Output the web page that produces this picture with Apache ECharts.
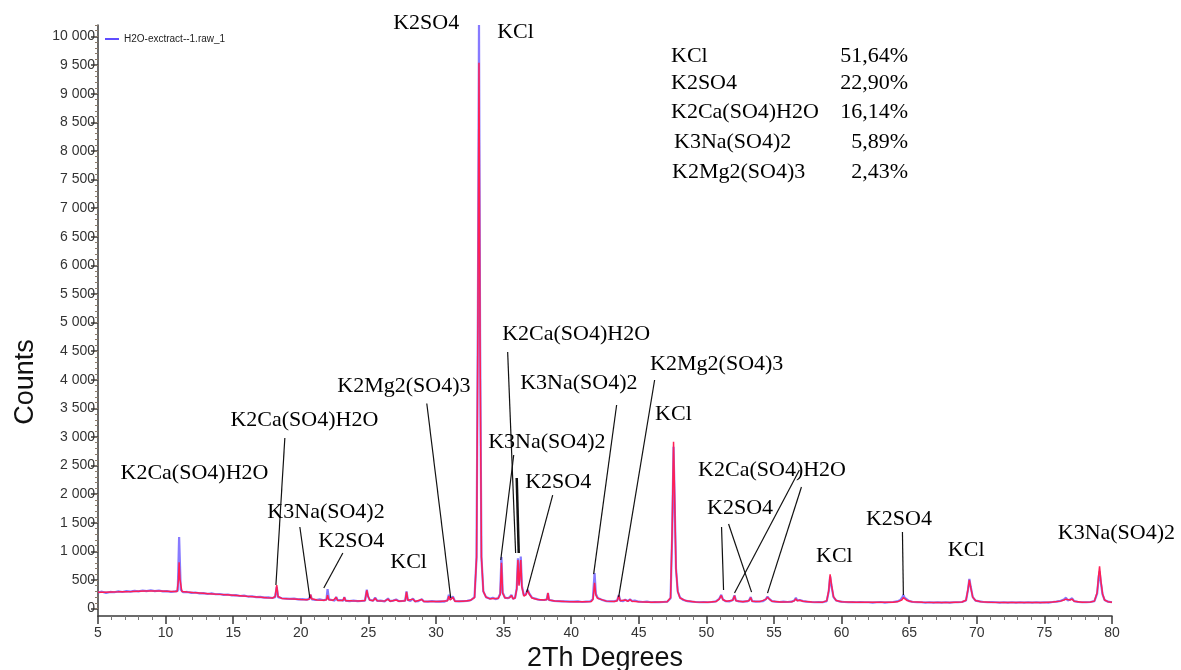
<!DOCTYPE html>
<html>
<head>
<meta charset="utf-8">
<script src="https://cdn.jsdelivr.net/npm/echarts@6/dist/echarts.min.js"></script>
<style>
  html, body { margin: 0; padding: 0; background: #fff; }
  #chart { width: 1181px; height: 670px; }
</style>
</head>
<body>
<div id="chart"></div>
<script>
  // measured scan (blue), [2Th, counts]
  var measured = [
    [5,280],[5.3,295],[5.6,275],[5.9,290],[6.2,285],[6.5,300],[6.8,290],[7.1,305],[7.4,295],[7.7,310],[8,300],[8.3,315],[8.6,305],[8.9,320],[9.2,305],[9.5,315],[9.8,300],[10.1,305],[10.4,290],[10.7,300],[10.9,310],[11.0,1250],[11.12,330],[11.3,285],[11.6,290],[11.9,275],[12.2,280],[12.5,265],[12.8,270],[13.1,255],[13.4,265],[13.7,250],[14,255],[14.3,240],[14.6,245],[14.9,230],[15.2,235],[15.5,220],[15.8,225],[16.1,210],[16.4,215],[16.7,200],[17,205],[17.3,190],[17.6,195],[17.9,185],
    [18.1,200],[18.22,380],[18.32,200],[18.6,180],[18.9,175],[19.2,170],[19.5,175],[19.8,160],[20.1,165],[20.4,155],[20.6,165],[20.72,240],[20.82,160],[21.1,150],[21.4,160],[21.7,145],[21.9,160],[21.98,340],[22.08,160],[22.3,150],[22.5,140],[22.62,205],[22.72,145],[22.95,150],[23.15,140],[23.22,200],[23.32,140],[23.6,130],[23.9,140],[24.2,130],[24.5,135],[24.75,140],[24.88,330],[24.98,210],[25.1,150],[25.35,140],[25.5,190],[25.65,135],[25.9,140],[26.2,125],[26.45,175],[26.6,130],[26.85,140],[27.05,160],[27.25,130],[27.55,135],[27.72,140],[27.82,300],[27.92,150],[28.1,135],[28.3,175],[28.45,125],[28.7,130],[28.95,165],[29.1,125],[29.4,120],[29.7,130],[30,120],[30.3,125],[30.6,120],[30.85,145],[30.95,240],[31.05,160],[31.25,210],[31.4,130],[31.7,125],[32,130],[32.3,135],[32.6,150],[32.85,200],
    [33.0,900],[33.1,5200],[33.18,10200],[33.26,4800],[33.36,900],[33.5,300],[33.7,200],[34.0,170],[34.2,190],[34.4,165],[34.6,180],[34.75,260],[34.84,900],[34.93,280],[35.1,190],[35.3,180],[35.45,200],[35.58,240],[35.7,170],[35.85,190],[35.97,350],[36.06,880],[36.14,420],[36.2,600],[36.27,910],[36.35,400],[36.5,230],[36.65,250],[36.78,330],[36.9,260],[37.1,190],[37.4,170],[37.7,150],[38.0,150],[38.2,160],[38.28,270],[38.36,150],[38.7,135],[39.0,130],[39.3,125],[39.6,125],[39.9,120],[40.2,120],[40.5,125],[40.8,115],[41.1,120],[41.4,125],[41.6,160],[41.73,620],[41.82,260],[41.95,190],[42.1,170],[42.3,150],[42.6,130],[42.9,125],[43.2,130],[43.4,140],[43.52,235],[43.62,140],[43.85,130],[44.0,155],[44.2,130],[44.35,160],[44.5,130],[44.7,140],[45,120],[45.3,115],[45.6,120],[45.9,110],[46.2,115],[46.5,110],[46.8,115],[47.1,120],
    [47.35,180],[47.47,1300],[47.57,2830],[47.65,1900],[47.75,700],[47.88,300],[48.05,190],[48.3,150],[48.6,130],[48.9,120],[49.2,115],[49.5,110],[49.8,115],[50.1,110],[50.4,115],[50.7,125],[50.95,170],[51.1,240],[51.22,160],[51.4,130],[51.7,125],[51.95,150],[52.08,230],[52.18,140],[52.4,125],[52.7,120],[53.0,125],[53.15,140],[53.28,200],[53.38,130],[53.65,120],[53.95,125],[54.2,130],[54.4,165],[54.52,210],[54.65,170],[54.85,130],[55.1,120],[55.4,115],[55.7,120],[56.0,115],[56.3,120],[56.5,140],[56.62,190],[56.72,140],[56.9,150],[57.02,175],[57.15,130],[57.4,120],[57.7,115],[58.0,110],[58.3,115],[58.6,110],[58.9,130],[59.05,300],[59.15,560],[59.25,400],[59.4,200],[59.6,140],[59.9,120],[60.2,115],[60.5,110],[60.8,115],[61.1,110],[61.4,115],[61.7,110],[62.0,110],[62.3,105],[62.6,110],[62.9,115],[63.2,105],[63.5,110],[63.8,115],[64.1,125],[64.35,150],[64.5,200],[64.57,240],[64.66,190],[64.8,160],[65.0,130],[65.3,115],[65.6,110],[65.9,110],[66.2,105],[66.5,110],[66.8,105],[67.1,110],[67.4,105],[67.7,110],[68.0,105],[68.3,110],[68.6,110],[68.9,115],
    [69.2,140],[69.35,330],[69.45,520],[69.55,380],[69.7,200],[69.9,140],[70.2,125],[70.5,115],[70.8,110],[71.1,115],[71.4,110],[71.7,105],[72.0,110],[72.3,105],[72.6,110],[72.9,105],[73.2,110],[73.5,105],[73.8,110],[74.1,105],[74.4,110],[74.7,105],[75.0,110],[75.3,105],[75.6,115],[75.9,120],[76.2,135],[76.45,160],[76.6,190],[76.72,140],[76.9,160],[77.05,180],[77.2,130],[77.5,115],[77.8,110],[78.1,110],[78.4,115],[78.7,130],[78.9,260],[79.02,560],[79.08,650],[79.18,450],[79.3,250],[79.45,150],[79.7,120],[80,110]
  ];

  // fitted profile (red), [2Th, counts]
  var calculated = [
    [5,285],[5.5,285],[6,290],[6.5,292],[7,295],[7.5,298],[8,302],[8.5,305],[9,306],[9.5,305],[10,302],[10.5,298],[10.85,300],[10.95,500],[11.0,810],[11.06,520],[11.2,300],[11.6,288],[12,280],[12.5,272],[13,264],[13.5,256],[14,248],[14.5,240],[15,232],[15.5,224],[16,214],[16.5,206],[17,198],[17.5,190],[17.9,185],
    [18.1,210],[18.22,410],[18.32,210],[18.6,178],[19,172],[19.5,166],[20,160],[20.5,156],[20.65,170],[20.72,245],[20.8,170],[21.2,150],[21.7,145],[21.9,155],[21.98,235],[22.06,155],[22.4,145],[22.62,195],[22.72,142],[23.1,140],[23.22,195],[23.32,138],[23.8,135],[24.3,133],[24.75,140],[24.88,320],[24.98,210],[25.1,150],[25.35,138],[25.5,180],[25.65,135],[26.2,130],[26.45,165],[26.6,128],[27.05,150],[27.25,128],[27.72,135],[27.82,290],[27.92,145],[28.3,165],[28.45,125],[28.95,160],[29.1,124],[29.7,122],[30.3,122],[30.85,135],[30.95,215],[31.05,150],[31.25,195],[31.4,128],[32,128],[32.5,140],[32.85,190],
    [33.0,900],[33.1,5000],[33.18,9540],[33.26,4600],[33.36,900],[33.5,300],[33.7,200],[34.0,170],[34.3,175],[34.6,175],[34.75,250],[34.84,800],[34.93,270],[35.1,185],[35.45,190],[35.58,230],[35.7,170],[35.85,185],[35.97,340],[36.06,850],[36.14,400],[36.2,560],[36.27,850],[36.35,380],[36.5,220],[36.65,240],[36.78,320],[36.9,250],[37.1,185],[37.5,160],[38.0,148],[38.2,158],[38.28,275],[38.36,148],[38.8,132],[39.5,125],[40.2,120],[41,118],[41.5,125],[41.62,170],[41.73,450],[41.82,240],[41.95,180],[42.2,160],[42.6,130],[43.2,125],[43.4,135],[43.52,230],[43.62,138],[44.0,150],[44.2,128],[44.35,155],[44.5,128],[45,118],[46,112],[47.1,118],
    [47.35,190],[47.47,1400],[47.57,2915],[47.65,1950],[47.75,700],[47.88,300],[48.05,185],[48.5,135],[49.2,115],[50.1,112],[50.7,122],[50.95,165],[51.1,230],[51.22,155],[51.5,128],[51.95,145],[52.08,225],[52.18,138],[52.7,120],[53.15,138],[53.28,190],[53.38,128],[53.95,122],[54.4,160],[54.52,200],[54.65,165],[54.85,128],[55.5,116],[56.3,118],[56.5,135],[56.62,170],[56.72,135],[56.9,145],[57.02,165],[57.15,128],[57.8,114],[58.6,112],[58.9,135],[59.05,320],[59.15,600],[59.25,420],[59.4,210],[59.6,140],[60,118],[61,112],[62,110],[63,110],[63.8,112],[64.2,125],[64.45,150],[64.57,190],[64.66,165],[64.85,140],[65.2,118],[66,110],[67,108],[68,108],[68.9,115],
    [69.2,145],[69.35,340],[69.45,500],[69.55,370],[69.7,200],[69.9,140],[70.3,120],[71,112],[72,108],[73,108],[74,108],[75,108],[75.6,115],[76.2,130],[76.45,150],[76.6,165],[76.72,135],[76.9,150],[77.05,165],[77.2,128],[77.8,112],[78.4,115],[78.7,130],[78.9,280],[79.02,600],[79.08,740],[79.18,480],[79.3,260],[79.45,150],[79.7,120],[80,112]
  ];

  // phase labels placed on the pattern: text, 2Th, counts (left edge, middle of text)
  var annotText = ['K2Ca(SO4)H2O','K2Ca(SO4)H2O','K3Na(SO4)2','K2SO4','KCl','K2Mg2(SO4)3','K2SO4','KCl','K2Ca(SO4)H2O','K3Na(SO4)2',
                   'K2Mg2(SO4)3','KCl','K3Na(SO4)2','K2SO4','K2Ca(SO4)H2O','K2SO4','KCl','K2SO4','KCl','K3Na(SO4)2'];
  var annotX = [6.63,14.76,17.49,21.26,26.58,22.66,26.80,34.49,34.86,36.19,45.80,46.17,33.82,36.56,49.35,50.01,58.07,61.76,67.82,75.95];
  var annotY = [2369,3295,1687,1180,813,3890,10236,10079,4799,3942,4274,3400,2911,2212,2421,1757,918,1565,1023,1320];

  // leader lines from labels to peaks, [[2Th, counts], [2Th, counts]]
  var leaderLines = [
    [[18.82,2981],[18.16,411]],
    [[19.93,1425],[20.67,184]],
    [[23.11,970],[21.70,358]],
    [[29.32,3584],[31.09,184]],
    [[35.30,4484],[35.89,970]],
    [[35.75,2684],[34.79,848]],
    [[43.36,3558],[41.66,603]],
    [[46.17,3995],[43.51,201]],
    [[38.63,1984],[36.71,288]],
    [[56.88,2421],[52.08,271]],
    [[57.03,2124],[54.52,271]],
    [[51.12,1425],[51.27,323]],
    [[51.64,1477],[53.34,288]],
    [[64.50,1337],[64.57,236]]
  ];
  var thickLeader = [[[35.97,2281],[36.12,970]]];

  // quantification table
  var phaseNames = ['KCl','K2SO4','K2Ca(SO4)H2O','K3Na(SO4)2','K2Mg2(SO4)3'];
  var phasePercents = ['51,64%','22,90%','16,14%','5,89%','2,43%'];
  var phaseNameX = [671,671,671,674,672];
  var phaseRowY = [57,84,113,143,173];

  var yMajorTicks = [0,500,1000,1500,2000,2500,3000,3500,4000,4500,5000,5500,6000,6500,7000,7500,8000,8500,9000,9500,10000];
  var yMinorTicks = [];
  for (var v = 0; v <= 10200; v += 100) yMinorTicks.push(v);

  var serif = '"Liberation Serif", "Times New Roman", serif';
  var sans = '"Liberation Sans", Arial, sans-serif';

  function spaced(val) {
    return String(val).replace(/\B(?=(\d{3})+(?!\d))/g, ' ');
  }

  var labelData = annotText.map(function (t, i) {
    return { name: t, value: [annotX[i], annotY[i]] };
  });

  var tableGraphics = [];
  phaseNames.forEach(function (n, i) {
    tableGraphics.push({
      type: 'text', left: phaseNameX[i], top: phaseRowY[i] - 12,
      style: { text: n, font: '22px ' + serif, fill: '#000' }
    });
    tableGraphics.push({
      type: 'text', right: 1181 - 908, top: phaseRowY[i] - 12,
      style: { text: phasePercents[i], font: '22px ' + serif, fill: '#000', textAlign: 'right' }
    });
  });
  tableGraphics.push({
    type: 'text', x: 26, y: 382, rotation: Math.PI / 2,
    style: { text: 'Counts', font: '27px ' + sans, fill: '#111', textAlign: 'center', textVerticalAlign: 'middle' }
  });

  var chart = echarts.init(document.getElementById('chart'));
  chart.setOption({
    animation: false,
    backgroundColor: '#fff',
    grid: { left: 98, right: 69, top: 25, bottom: 54, containLabel: false, outerBoundsMode: 'none' },
    legend: {
      data: ['H2O-exctract--1.raw_1'],
      left: 100, top: 29,
      icon: 'rect', itemWidth: 14, itemHeight: 2,
      textStyle: { fontFamily: sans, fontSize: 10, color: '#222' }
    },
    xAxis: {
      type: 'value', min: 5, max: 80, interval: 5,
      name: '2Th Degrees', nameLocation: 'middle', nameGap: 28,
      nameTextStyle: { fontFamily: sans, fontSize: 27, color: '#111' },
      axisLine: { onZero: false, lineStyle: { color: '#3a3a3a', width: 1.5 } },
      axisTick: { length: 8, lineStyle: { color: '#3a3a3a', width: 1.5 } },
      minorTick: { show: true, splitNumber: 5, length: 4, lineStyle: { color: '#777' } },
      axisLabel: { fontFamily: sans, fontSize: 14, color: '#333', margin: 10 },
      splitLine: { show: false }
    },
    yAxis: [{
      type: 'value', min: -130, max: 10200,
      axisLine: { show: true, lineStyle: { color: '#3a3a3a', width: 1.5 } },
      axisTick: { show: true, length: 7, customValues: yMajorTicks, lineStyle: { color: '#3a3a3a', width: 1.5 } },
      axisLabel: { customValues: yMajorTicks, fontFamily: sans, fontSize: 14, color: '#333', margin: 3, formatter: spaced },
      splitLine: { show: false }
    }, {
      type: 'value', min: -130, max: 10200, position: 'left',
      axisLine: { show: false },
      axisTick: { show: true, length: 3, customValues: yMinorTicks, lineStyle: { color: '#8a7a6a' } },
      axisLabel: { show: false },
      splitLine: { show: false }
    }],
    graphic: tableGraphics,
    series: [{
      name: 'H2O-exctract--1.raw_1',
      type: 'line',
      data: measured,
      showSymbol: false,
      symbol: 'none',
      lineStyle: { color: '#5f4dff', width: 2.2, opacity: 0.75 },
      itemStyle: { color: '#5f4dff' },
      z: 2
    }, {
      name: 'calc',
      type: 'line',
      data: calculated,
      showSymbol: false,
      symbol: 'none',
      lineStyle: { color: '#ff1f55', width: 1.5 },
      itemStyle: { color: '#ff1f55' },
      z: 3
    }, {
      name: 'leaders',
      type: 'lines',
      coordinateSystem: 'cartesian2d',
      data: leaderLines.map(function (c) { return { coords: c }; }),
      lineStyle: { color: '#111', width: 1.2, opacity: 1 },
      z: 4
    }, {
      name: 'leaders2',
      type: 'lines',
      coordinateSystem: 'cartesian2d',
      data: thickLeader.map(function (c) { return { coords: c }; }),
      lineStyle: { color: '#111', width: 2.5, opacity: 1 },
      z: 4
    }, {
      name: 'phases',
      type: 'scatter',
      clip: false,
      symbolSize: 1,
      itemStyle: { color: 'transparent' },
      data: labelData,
      label: {
        show: true, position: 'right', distance: 0,
        formatter: '{b}',
        fontFamily: serif, fontSize: 22, color: '#000', opacity: 1
      },
      silent: true,
      z: 5
    }]
  });
</script>
</body>
</html>
